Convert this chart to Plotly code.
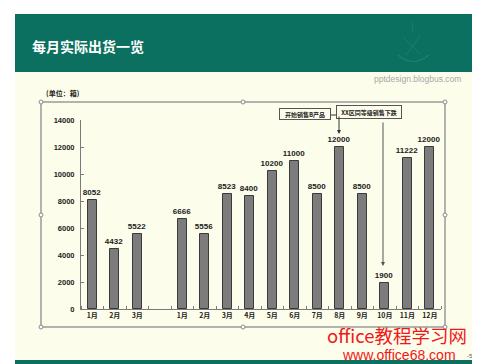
import plotly.graph_objects as go

# ---------------- data ----------------
group1_labels = ["1月", "2月", "3月"]
group1_values = [8052, 4432, 5522]
group2_labels = ["1月", "2月", "3月", "4月", "5月", "6月", "7月", "8月", "9月", "10月", "11月", "12月"]
group2_values = [6666, 5556, 8523, 8400, 10200, 11000, 8500, 12000, 8500, 1900, 11222, 12000]
y_ticks = [0, 2000, 4000, 6000, 8000, 10000, 12000, 14000]
y_tick_labels = ["0", "2000", "4000", "6000", "8000", "10000", "12000", "14000"]

title_text = "每月实际出货一览"
unit_text = "(单位：箱)"
note1 = "开始销售B产品"
note2 = "XX区同等级销售下跌"

# ---------------- layout helpers ----------------
W, H = 480, 364
L, R, T, B = 73, 47, 112, 63
PW, PH = W - L - R, H - T - B


def px(x):
    return (x - L) / PW


def py(y):
    return (H - B - y) / PH


labels = group1_labels + [""] + group2_labels
values = group1_values + [None] + group2_values
xs = list(range(len(labels)))
bx = [x for x, v in zip(xs, values) if v is not None]
bv = [v for v in values if v is not None]

GREEN = "#0b7060"
CREAM = "#fdfdeb"
NUMFONT = "Liberation Sans, Arial, sans-serif"
CJK = "Noto Sans CJK SC, sans-serif"

fig = go.Figure()
fig.add_trace(go.Bar(
    x=bx, y=bv, width=0.4,
    marker=dict(color="#7c7c7c", line=dict(color="#3a3a3a", width=1)),
    text=[str(v) for v in bv], textposition="outside", cliponaxis=False, constraintext="none",
    textfont=dict(family=NUMFONT, size=8, color="#222", weight="bold"),
    hoverinfo="skip",
))

shapes = []
# slide shadow + slide
shapes.append(dict(type="rect", xref="paper", yref="paper", x0=px(9), x1=px(476), y0=py(359), y1=py(8),
                   fillcolor="#bdbdbd", line=dict(width=0), layer="below"))
shapes.append(dict(type="rect", xref="paper", yref="paper", x0=px(7), x1=px(473), y0=py(356), y1=py(6),
                   fillcolor=CREAM, line=dict(width=0), layer="below"))
# header band
shapes.append(dict(type="rect", xref="paper", yref="paper", x0=px(7), x1=px(473), y0=py(64), y1=py(6),
                   fillcolor=GREEN, line=dict(width=0), layer="below"))
# bottom green stripe
shapes.append(dict(type="rect", xref="paper", yref="paper", x0=px(7), x1=px(473), y0=py(356), y1=py(352),
                   fillcolor=GREEN, line=dict(width=0), layer="below"))
# faint logo in header
shapes.append(dict(type="path", xref="paper", yref="paper",
                   path=f"M {px(390)},{py(47)} Q {px(405)},{py(60)} {px(421)},{py(47)}",
                   line=dict(color="rgba(255,255,255,0.10)", width=1.2), layer="below"))
shapes.append(dict(type="path", xref="paper", yref="paper",
                   path=f"M {px(396)},{py(30)} L {px(412)},{py(46)} M {px(412)},{py(28)} L {px(398)},{py(47)} M {px(405)},{py(14)} L {px(404)},{py(24)}",
                   line=dict(color="rgba(255,255,255,0.08)", width=1), layer="below"))
# chart object frame
shapes.append(dict(type="rect", xref="paper", yref="paper", x0=px(33), x1=px(437), y0=py(319), y1=py(94),
                   line=dict(color="#9a9a9a", width=1.5), fillcolor="rgba(0,0,0,0)", layer="below"))
for hx, hy in [(33, 94), (235, 94), (437, 94), (33, 207), (437, 207), (33, 319), (235, 319), (437, 319)]:
    shapes.append(dict(type="circle", xref="paper", yref="paper",
                       x0=px(hx - 2), x1=px(hx + 2), y0=py(hy + 2), y1=py(hy - 2),
                       line=dict(color="#8a8a8a", width=1), fillcolor="#ffffff", layer="above"))
# connector from note boxes
shapes.append(dict(type="line", xref="paper", yref="paper", x0=px(323), x1=px(331), y0=py(107), y1=py(107),
                   line=dict(color="#333", width=1)))

annotations = [
    dict(text=title_text, xref="paper", yref="paper", x=px(22), y=py(38), xanchor="left", yanchor="middle",
         showarrow=False, font=dict(family=CJK, size=14, color="#ffffff", weight="bold")),
    dict(text="pptdesign.blogbus.com", xref="paper", yref="paper", x=px(455), y=py(71), xanchor="right",
         yanchor="middle", showarrow=False, font=dict(family=NUMFONT, size=8.5, color="#a8a8a8")),
    dict(text=unit_text, xref="paper", yref="paper", x=px(36), y=py(85), xanchor="left", yanchor="middle",
         showarrow=False, font=dict(family=CJK, size=7, color="#222", weight="bold")),
    dict(text=note1, xref="paper", yref="paper", x=px(297), y=py(106), xanchor="center", yanchor="middle",
         showarrow=False, bordercolor="#555", borderwidth=1, borderpad=1, bgcolor=CREAM,
         width=48, height=8, font=dict(family=CJK, size=6, color="#222", weight="bold")),
    dict(text=note2, xref="paper", yref="paper", x=px(361), y=py(104), xanchor="center", yanchor="middle",
         showarrow=False, bordercolor="#555", borderwidth=1, borderpad=1, bgcolor=CREAM,
         width=62, height=10, font=dict(family=CJK, size=6, color="#222", weight="bold")),
    # arrows
    dict(text="", xref="paper", yref="paper", x=px(331), y=py(126), ax=0, ay=-19, showarrow=True,
         arrowhead=2, arrowsize=0.8, arrowwidth=1, arrowcolor="#333"),
    dict(text="", xref="paper", yref="paper", x=px(375), y=py(258), ax=0, ay=-145, showarrow=True,
         arrowhead=2, arrowsize=0.8, arrowwidth=1, arrowcolor="#555"),
    # overlay watermark
    dict(text="office教程学习网", xref="paper", yref="paper", x=px(461), y=py(327), xanchor="right",
         yanchor="middle", showarrow=False, font=dict(family=CJK, size=18.5, color="#f01818")),
    dict(text="www.office68.com", xref="paper", yref="paper", x=px(450), y=py(347), xanchor="right",
         yanchor="middle", showarrow=False, font=dict(family=NUMFONT, size=14, color="#f01818")),
    dict(text="-5-", xref="paper", yref="paper", x=px(462), y=py(348), xanchor="center",
         yanchor="middle", showarrow=False, font=dict(family=NUMFONT, size=6, color="#555")),
]

fig.update_layout(
    width=W, height=H, margin=dict(l=L, r=R, t=T, b=B, pad=0),
    paper_bgcolor="#ffffff", plot_bgcolor="rgba(0,0,0,0)",
    showlegend=False, shapes=shapes, annotations=annotations, bargap=0,
    xaxis=dict(range=[-0.5, len(labels) - 0.5], tickmode="array", tickvals=xs, ticktext=labels,
               ticks="", showgrid=False, zeroline=False, showline=True, linecolor="#7a7a7a", linewidth=1,
               ticklabelstandoff=0,
               tickfont=dict(family=CJK, size=7, color="#222", weight="bold"),
               minor=dict(ticks="inside", ticklen=3, tickcolor="#7a7a7a", tick0=-0.5, dtick=1, showgrid=False)),
    yaxis=dict(range=[0, 14000], tickmode="array", tickvals=y_ticks, ticktext=y_tick_labels,
               ticks="inside", ticklen=3,
               tickcolor="#7a7a7a", showgrid=False, zeroline=False, showline=True, linecolor="#7a7a7a",
               linewidth=1, ticklabelstandoff=4,
               tickfont=dict(family=NUMFONT, size=7.5, color="#222", weight="bold")),
)

fig.write_html("out.html")
